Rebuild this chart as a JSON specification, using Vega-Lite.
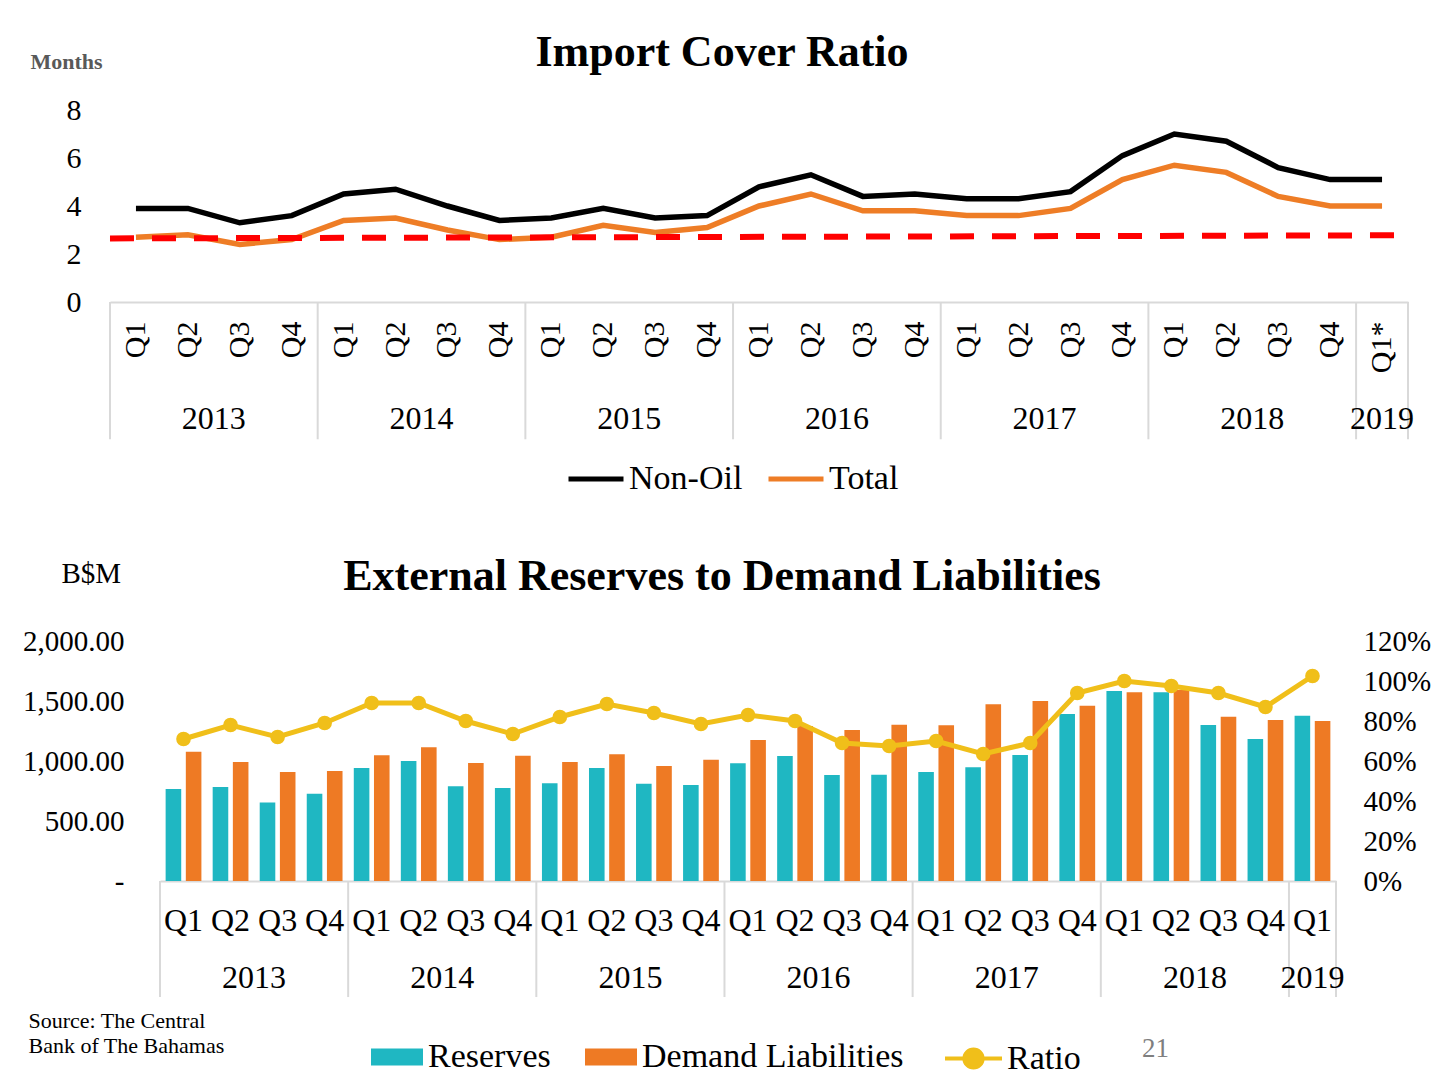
{
  "$schema": "https://vega.github.io/schema/vega-lite/v6.json",
  "background": "white",
  "padding": {"left": 22, "top": 31, "right": 0, "bottom": 0},
  "bounds": "flush",
  "spacing": 339,
  "resolve": {"scale": {"stroke": "independent", "fill": "independent"}, "legend": {"stroke": "independent", "fill": "independent"}},
  "datasets": {
    "ic": [
      {"period": "2013 Q1", "year": "2013", "q": "Q1", "Non-Oil": 3.9, "Total": 2.7},
      {"period": "2013 Q2", "year": "2013", "q": "Q2", "Non-Oil": 3.9, "Total": 2.8},
      {"period": "2013 Q3", "year": "2013", "q": "Q3", "Non-Oil": 3.3, "Total": 2.4},
      {"period": "2013 Q4", "year": "2013", "q": "Q4", "Non-Oil": 3.6, "Total": 2.6},
      {"period": "2014 Q1", "year": "2014", "q": "Q1", "Non-Oil": 4.5, "Total": 3.4},
      {"period": "2014 Q2", "year": "2014", "q": "Q2", "Non-Oil": 4.7, "Total": 3.5},
      {"period": "2014 Q3", "year": "2014", "q": "Q3", "Non-Oil": 4.0, "Total": 3.0},
      {"period": "2014 Q4", "year": "2014", "q": "Q4", "Non-Oil": 3.4, "Total": 2.6},
      {"period": "2015 Q1", "year": "2015", "q": "Q1", "Non-Oil": 3.5, "Total": 2.7},
      {"period": "2015 Q2", "year": "2015", "q": "Q2", "Non-Oil": 3.9, "Total": 3.2},
      {"period": "2015 Q3", "year": "2015", "q": "Q3", "Non-Oil": 3.5, "Total": 2.9},
      {"period": "2015 Q4", "year": "2015", "q": "Q4", "Non-Oil": 3.6, "Total": 3.1},
      {"period": "2016 Q1", "year": "2016", "q": "Q1", "Non-Oil": 4.8, "Total": 4.0},
      {"period": "2016 Q2", "year": "2016", "q": "Q2", "Non-Oil": 5.3, "Total": 4.5},
      {"period": "2016 Q3", "year": "2016", "q": "Q3", "Non-Oil": 4.4, "Total": 3.8},
      {"period": "2016 Q4", "year": "2016", "q": "Q4", "Non-Oil": 4.5, "Total": 3.8},
      {"period": "2017 Q1", "year": "2017", "q": "Q1", "Non-Oil": 4.3, "Total": 3.6},
      {"period": "2017 Q2", "year": "2017", "q": "Q2", "Non-Oil": 4.3, "Total": 3.6},
      {"period": "2017 Q3", "year": "2017", "q": "Q3", "Non-Oil": 4.6, "Total": 3.9},
      {"period": "2017 Q4", "year": "2017", "q": "Q4", "Non-Oil": 6.1, "Total": 5.1},
      {"period": "2018 Q1", "year": "2018", "q": "Q1", "Non-Oil": 7.0, "Total": 5.7},
      {"period": "2018 Q2", "year": "2018", "q": "Q2", "Non-Oil": 6.7, "Total": 5.4},
      {"period": "2018 Q3", "year": "2018", "q": "Q3", "Non-Oil": 5.6, "Total": 4.4},
      {"period": "2018 Q4", "year": "2018", "q": "Q4", "Non-Oil": 5.1, "Total": 4.0},
      {"period": "2019 Q1", "year": "2019", "q": "Q1", "Non-Oil": 5.1, "Total": 4.0}
    ],
    "ext": [
      {"period": "2013 Q1", "year": "2013", "q": "Q1", "Reserves": 767, "Demand Liabilities": 1078, "Ratio": 0.71},
      {"period": "2013 Q2", "year": "2013", "q": "Q2", "Reserves": 783, "Demand Liabilities": 992, "Ratio": 0.78},
      {"period": "2013 Q3", "year": "2013", "q": "Q3", "Reserves": 655, "Demand Liabilities": 908, "Ratio": 0.72},
      {"period": "2013 Q4", "year": "2013", "q": "Q4", "Reserves": 728, "Demand Liabilities": 917, "Ratio": 0.79},
      {"period": "2014 Q1", "year": "2014", "q": "Q1", "Reserves": 942, "Demand Liabilities": 1047, "Ratio": 0.89},
      {"period": "2014 Q2", "year": "2014", "q": "Q2", "Reserves": 1000, "Demand Liabilities": 1114, "Ratio": 0.89},
      {"period": "2014 Q3", "year": "2014", "q": "Q3", "Reserves": 789, "Demand Liabilities": 983, "Ratio": 0.80},
      {"period": "2014 Q4", "year": "2014", "q": "Q4", "Reserves": 775, "Demand Liabilities": 1044, "Ratio": 0.735},
      {"period": "2015 Q1", "year": "2015", "q": "Q1", "Reserves": 814, "Demand Liabilities": 992, "Ratio": 0.82},
      {"period": "2015 Q2", "year": "2015", "q": "Q2", "Reserves": 942, "Demand Liabilities": 1056, "Ratio": 0.885},
      {"period": "2015 Q3", "year": "2015", "q": "Q3", "Reserves": 811, "Demand Liabilities": 958, "Ratio": 0.84},
      {"period": "2015 Q4", "year": "2015", "q": "Q4", "Reserves": 800, "Demand Liabilities": 1011, "Ratio": 0.785},
      {"period": "2016 Q1", "year": "2016", "q": "Q1", "Reserves": 981, "Demand Liabilities": 1175, "Ratio": 0.83},
      {"period": "2016 Q2", "year": "2016", "q": "Q2", "Reserves": 1042, "Demand Liabilities": 1292, "Ratio": 0.80},
      {"period": "2016 Q3", "year": "2016", "q": "Q3", "Reserves": 883, "Demand Liabilities": 1258, "Ratio": 0.69},
      {"period": "2016 Q4", "year": "2016", "q": "Q4", "Reserves": 886, "Demand Liabilities": 1303, "Ratio": 0.675},
      {"period": "2017 Q1", "year": "2017", "q": "Q1", "Reserves": 908, "Demand Liabilities": 1297, "Ratio": 0.70},
      {"period": "2017 Q2", "year": "2017", "q": "Q2", "Reserves": 947, "Demand Liabilities": 1472, "Ratio": 0.635},
      {"period": "2017 Q3", "year": "2017", "q": "Q3", "Reserves": 1050, "Demand Liabilities": 1500, "Ratio": 0.69},
      {"period": "2017 Q4", "year": "2017", "q": "Q4", "Reserves": 1392, "Demand Liabilities": 1461, "Ratio": 0.94},
      {"period": "2018 Q1", "year": "2018", "q": "Q1", "Reserves": 1583, "Demand Liabilities": 1572, "Ratio": 1.0},
      {"period": "2018 Q2", "year": "2018", "q": "Q2", "Reserves": 1572, "Demand Liabilities": 1592, "Ratio": 0.975},
      {"period": "2018 Q3", "year": "2018", "q": "Q3", "Reserves": 1300, "Demand Liabilities": 1369, "Ratio": 0.94},
      {"period": "2018 Q4", "year": "2018", "q": "Q4", "Reserves": 1183, "Demand Liabilities": 1342, "Ratio": 0.87},
      {"period": "2019 Q1", "year": "2019", "q": "Q1", "Reserves": 1378, "Demand Liabilities": 1333, "Ratio": 1.025}
    ]
  },
  "vconcat": [
    {
      "width": 1298,
      "height": 192,
      "title": {"text": "Import Cover Ratio", "fontSize": 44, "fontWeight": "bold", "anchor": "middle", "frame": "group", "dx": -37, "dy": 60, "offset": 0, "baseline": "alphabetic"},
      "data": {"name": "ic"},
      "layer": [
        {
          "transform": [{"fold": ["Non-Oil", "Total"], "as": ["series", "months"]}],
          "mark": {"type": "line", "strokeWidth": 5.5},
          "encoding": {
            "x": {"field": "period", "type": "nominal", "scale": {"type": "band", "paddingInner": 0, "paddingOuter": 0},
              "axis": {"title": null, "labelExpr": "slice(datum.value, 5) + (datum.value == '2019 Q1' ? '*' : '')", "labelAngle": 270, "labelFontSize": 30, "labelPadding": 19, "domainColor": "#D9D9D9", "domainWidth": 2}},
            "y": {"field": "months", "type": "quantitative", "scale": {"domain": [0, 8]},
              "axis": {"title": "Months", "values": [0, 2, 4, 6, 8], "domain": false, "labelFontSize": 30, "labelPadding": 29, "titleAngle": 0, "titleX": -80, "titleY": -42, "titleAlign": "left", "titleBaseline": "alphabetic", "titleFontSize": 22, "titleFontWeight": "bold", "titleColor": "#595959"}},
            "stroke": {"field": "series", "type": "nominal", "scale": {"domain": ["Non-Oil", "Total"], "range": ["#000000", "#EE7D26"]},
              "legend": {"title": null, "orient": "none", "legendX": 456, "legendY": 339, "direction": "horizontal", "symbolType": "stroke", "symbolSize": 3025, "symbolStrokeWidth": 5, "labelFontSize": 34, "labelOffset": 3, "columnPadding": 15, "labelLimit": 0}}
          }
        },
        {
          "data": {"values": [{"from": "2013 Q1", "to": "2019 Q1", "start": 2.65, "end": 2.78}]},
          "mark": {"type": "rule", "color": "#FF0000", "strokeWidth": 6, "strokeDash": [24, 18]},
          "encoding": {
            "x": {"field": "from", "type": "nominal", "bandPosition": 0},
            "x2": {"field": "to", "bandPosition": 1},
            "y": {"field": "start", "type": "quantitative"},
            "y2": {"field": "end"}
          }
        },
        {
          "transform": [{"filter": "datum.q == 'Q1'"}],
          "mark": {"type": "rule", "color": "#D9D9D9", "strokeWidth": 2},
          "encoding": {
            "x": {"field": "period", "type": "nominal", "bandPosition": 0},
            "y": {"datum": 0},
            "y2": {"datum": -5.72}
          }
        },
        {
          "transform": [{"filter": "datum.year == '2019'"}],
          "mark": {"type": "rule", "color": "#D9D9D9", "strokeWidth": 2},
          "encoding": {
            "x": {"field": "period", "type": "nominal", "bandPosition": 1},
            "y": {"datum": 0},
            "y2": {"datum": -5.72}
          }
        },
        {
          "transform": [{"filter": "datum.q == 'Q3'"}],
          "mark": {"type": "text", "fontSize": 32, "baseline": "middle", "color": "#000000"},
          "encoding": {
            "x": {"field": "period", "type": "nominal", "bandPosition": 0},
            "y": {"datum": -4.89},
            "text": {"field": "year"}
          }
        },
        {
          "transform": [{"filter": "datum.year == '2019'"}],
          "mark": {"type": "text", "fontSize": 32, "baseline": "middle", "color": "#000000"},
          "encoding": {
            "x": {"field": "period", "type": "nominal", "bandPosition": 0.5},
            "y": {"datum": -4.89},
            "text": {"field": "year"}
          }
        }
      ]
    },
    {
      "width": 1230,
      "height": 240,
      "title": {"text": "External Reserves to Demand Liabilities", "fontSize": 44, "fontWeight": "bold", "anchor": "middle", "frame": "group", "dx": -3, "dy": 75, "offset": 0, "baseline": "alphabetic"},
      "data": {"name": "ext"},
      "layer": [
        {
          "transform": [{"fold": ["Reserves", "Demand Liabilities"], "as": ["series", "amount"]}],
          "mark": {"type": "bar"},
          "encoding": {
            "x": {"field": "period", "type": "nominal", "scale": {"type": "band", "paddingInner": 0, "paddingOuter": 0, "range": [50, 1226]},
              "axis": {"title": "21", "labelExpr": "slice(datum.value, 5)", "labelAngle": 0, "labelFontSize": 32, "labelPadding": 24, "domainColor": "#D9D9D9", "domainWidth": 2, "titleX": 1045, "titleY": 167, "titleAlign": "center", "titleBaseline": "middle", "titleFontSize": 27, "titleFontWeight": "normal", "titleColor": "#7F7F7F"}},
            "xOffset": {"field": "series", "type": "nominal", "scale": {"domain": ["Reserves", "Demand Liabilities"], "paddingInner": 0.228, "paddingOuter": 0.279}},
            "y": {"field": "amount", "type": "quantitative", "scale": {"domain": [0, 2000]},
              "axis": {"title": "B$M", "values": [0, 500, 1000, 1500, 2000], "labelExpr": "datum.value == 0 ? '-\u00a0\u00a0' : format(datum.value, ',.2f')", "domain": false, "offset": -50, "labelFontSize": 29, "labelPadding": 36, "titleAngle": 0, "titleX": -99, "titleY": -59, "titleAlign": "left", "titleBaseline": "alphabetic", "titleFontSize": 29, "titleFontWeight": "normal"}},
            "fill": {"field": "series", "type": "nominal", "scale": {"domain": ["Reserves", "Demand Liabilities"], "range": ["#1FB7C2", "#EE7A24"]},
              "legend": {"title": null, "orient": "none", "legendX": 261, "legendY": 390, "direction": "horizontal", "symbolType": "M-1,-0.33H1V0.33H-1Z", "symbolSize": 2704, "symbolStrokeWidth": 0, "labelFontSize": 34, "labelOffset": 5, "columnPadding": 34, "labelLimit": 0}}
          }
        },
        {
          "transform": [{"filter": "datum.q == 'Q1'"}],
          "mark": {"type": "rule", "color": "#D9D9D9", "strokeWidth": 2},
          "encoding": {
            "x": {"field": "period", "type": "nominal", "bandPosition": 0},
            "y": {"datum": 0, "scale": {"domain": [0, 2000]}, "axis": null},
            "y2": {"datum": -967}
          }
        },
        {
          "transform": [{"filter": "datum.year == '2019'"}],
          "mark": {"type": "rule", "color": "#D9D9D9", "strokeWidth": 2},
          "encoding": {
            "x": {"field": "period", "type": "nominal", "bandPosition": 1},
            "y": {"datum": 0, "scale": {"domain": [0, 2000]}, "axis": null},
            "y2": {"datum": -967}
          }
        },
        {
          "transform": [{"filter": "datum.q == 'Q3'"}],
          "mark": {"type": "text", "fontSize": 32, "baseline": "middle", "color": "#000000"},
          "encoding": {
            "x": {"field": "period", "type": "nominal", "bandPosition": 0},
            "y": {"datum": -808, "scale": {"domain": [0, 2000]}, "axis": null},
            "text": {"field": "year"}
          }
        },
        {
          "transform": [{"filter": "datum.year == '2019'"}],
          "mark": {"type": "text", "fontSize": 32, "baseline": "middle", "color": "#000000"},
          "encoding": {
            "x": {"field": "period", "type": "nominal", "bandPosition": 0.5},
            "y": {"datum": -808, "scale": {"domain": [0, 2000]}, "axis": null},
            "text": {"field": "year"}
          }
        },
        {
          "transform": [{"fold": ["Ratio"], "as": ["series", "ratio"]}],
          "mark": {"type": "line", "strokeWidth": 5, "point": {"filled": true, "size": 160, "fill": "#F0BF1A"}},
          "encoding": {
            "x": {"field": "period", "type": "nominal"},
            "y": {"field": "ratio", "type": "quantitative", "scale": {"domain": [0, 1.2]},
              "axis": {"orient": "right", "title": ["Source: The Central", "Bank of The Bahamas"], "values": [0, 0.2, 0.4, 0.6, 0.8, 1, 1.2], "format": ".0%", "domain": false, "labelFontSize": 29, "labelPadding": 23, "titleAngle": 0, "titleX": -1312, "titleY": 386, "titleAlign": "left", "titleBaseline": "alphabetic", "titleFontSize": 22, "titleFontWeight": "normal", "titleLineHeight": 25}},
            "stroke": {"field": "series", "type": "nominal", "scale": {"domain": ["Ratio"], "range": ["#F0BF1A"]},
              "legend": {"title": null, "orient": "none", "legendX": 833, "legendY": 387, "symbolType": "M-1,0H1M0.32,0A0.32,0.32,0,1,1,-0.32,0A0.32,0.32,0,1,1,0.32,0", "symbolSize": 3249, "symbolStrokeWidth": 4, "symbolFillColor": "#F0BF1A", "labelFontSize": 34, "labelOffset": 3, "labelLimit": 0}}
          }
        }
      ],
      "resolve": {"scale": {"y": "independent"}}
    }
  ],
  "config": {
    "font": "Liberation Serif",
    "view": {"stroke": null},
    "axis": {"grid": false, "ticks": false, "labelColor": "#000000", "labelFont": "Liberation Serif", "titleFont": "Liberation Serif", "titleColor": "#000000"},
    "legend": {"labelFont": "Liberation Serif", "labelColor": "#000000", "padding": 0},
    "title": {"font": "Liberation Serif", "color": "#000000"}
  }
}
